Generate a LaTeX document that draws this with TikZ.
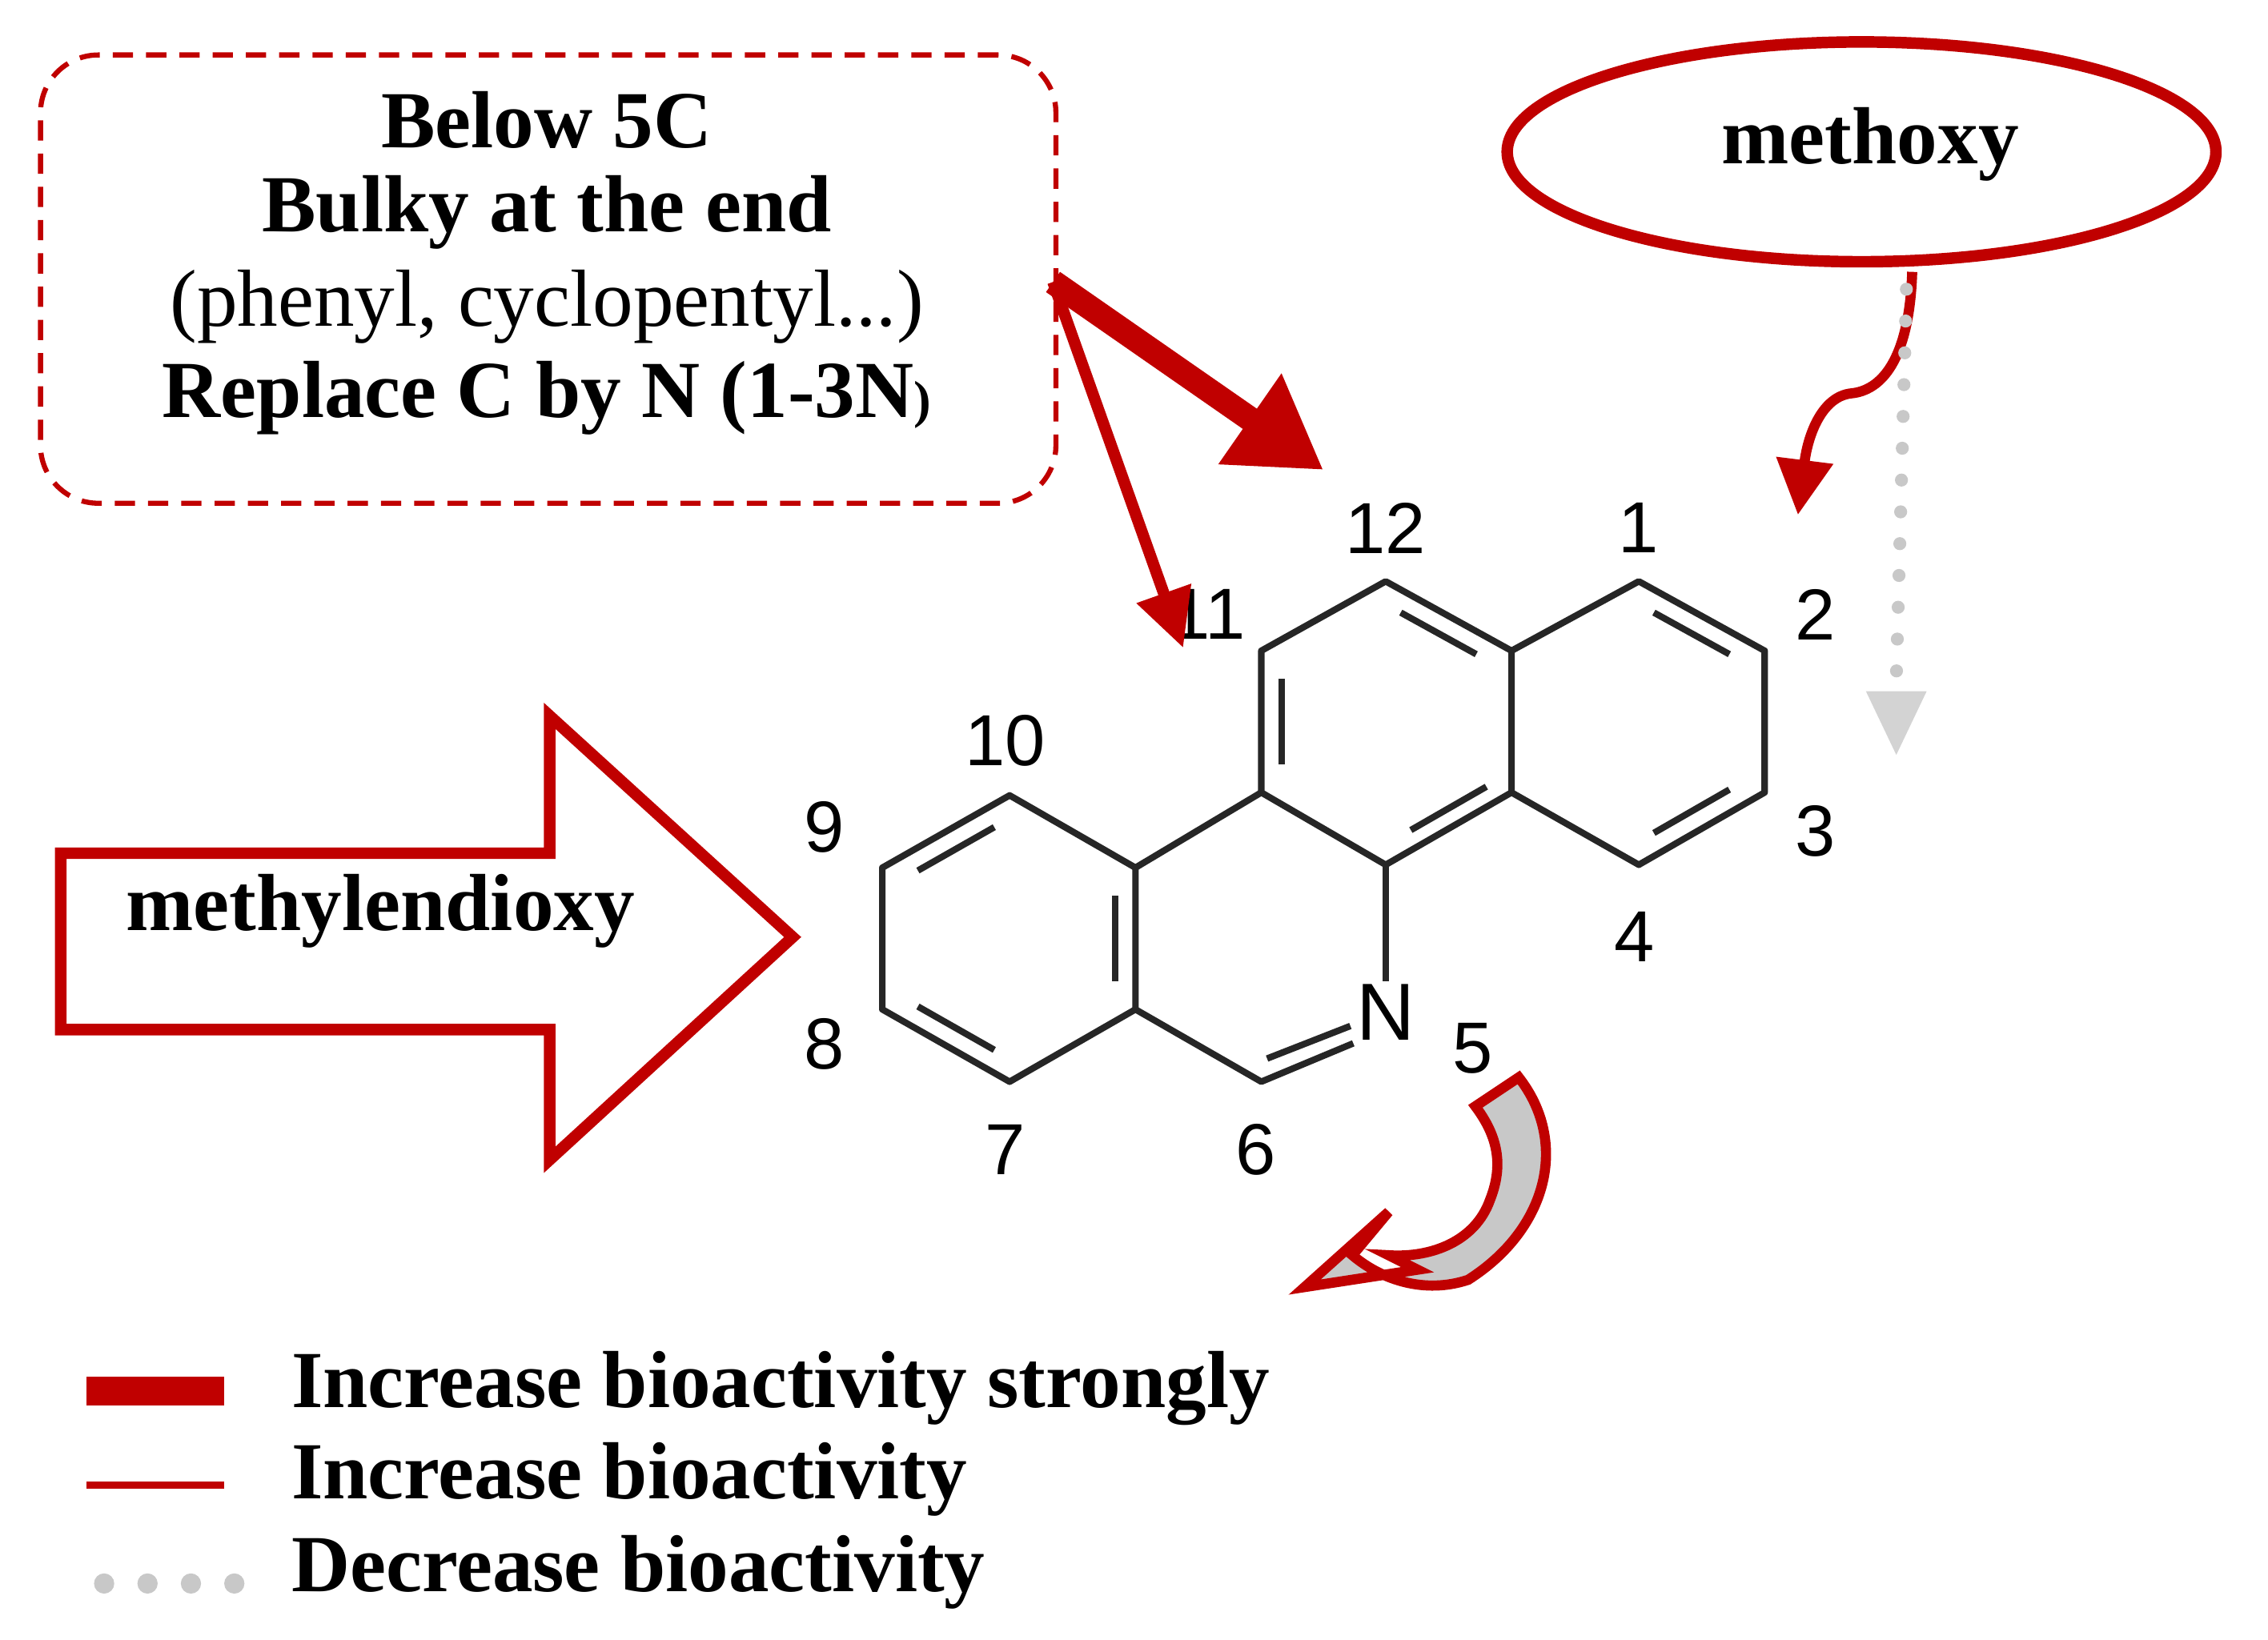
\documentclass[tikz,border=0pt]{standalone}
\usepackage{fontspec}
\setmainfont{Liberation Serif}
\newfontfamily\numfont{Liberation Sans}
\usetikzlibrary{arrows.meta,shapes.geometric,calc}
\definecolor{dred}{RGB}{192,0,0}
\definecolor{lgray}{RGB}{200,200,200}
\begin{document}
\begin{tikzpicture}[x=1pt,y=-1pt,
  bond/.style={line width=4.5pt,black!85},
  lbl/.style={font=\numfont\fontsize{50}{54}\selectfont},
  txt/.style={font=\fontsize{56}{60}\selectfont\bfseries},
  ltxt/.style={font=\fontsize{56}{60}\selectfont\bfseries,anchor=west}]
\useasboundingbox (0,0) rectangle (1568,1134);
% dashed box
\node[draw=dred,dash pattern=on 14pt off 9pt,line width=3.5pt,rounded corners=40pt,minimum width=702pt,minimum height=310pt] (box) at (379,193) {};
\node[txt] (t1) at (378,83) {Below 5C};
\node[txt] (t2) at (378,147) {Bulky at the end};
\node[font=\fontsize{56}{60}\selectfont] (t3) at (378,212) {(phenyl, cyclopentyl...)};
\node[txt] (t4) at (378,275) {Replace C by N (1-3N{\fontsize{36}{40}\selectfont)}};
% ellipse
\node[draw=dred,line width=8pt,ellipse,minimum width=490pt,minimum height=152pt] (ell) at (1287,105) {};
\node[txt] (meth) at (1293,100) {methoxy};
% atoms
\foreach \n/\x/\y in {c1/1133/402,c2/1220/450,c3/1220/548,c4/1133/598,c4a/1045/548,c12a/1045/450,
  c12/958/402,c11/872/450,c10b/872/548,c4b/958/598,c6/872/748,c6a/785/698,c10a/785/600,
  c10/698/550,c9/610/600,c8/610/698,c7/698/748}
  \coordinate (\n) at (\x,\y);
\node[font=\numfont\fontsize{56}{60}\selectfont,inner sep=2pt] (N) at (958,700) {N};
\draw[bond,line join=round] (c12a)--(c1)--(c2)--(c3)--(c4)--(c4a)--(c12a)--(c12)--(c11)--(c10b)--(c4b)--(c4a);
\draw[bond] (c4b)--(N.north);
\draw[bond,line join=round] (N.south west)--(c6)--(c6a)--(c10a)--(c10b);
\draw[bond,line join=round] (c10a)--(c10)--(c9)--(c8)--(c7)--(c6a);
% inner double bonds
\draw[bond] ($(c1)!0.2!(c2)+(-7,12)$) -- ($(c1)!0.8!(c2)+(-7,12)$);
\draw[bond] ($(c3)!0.2!(c4)+(-7,-12)$) -- ($(c3)!0.8!(c4)+(-7,-12)$);
\draw[bond] ($(c12)!0.2!(c12a)+(-7,12)$) -- ($(c12)!0.8!(c12a)+(-7,12)$);
\draw[bond] ($(c11)!0.2!(c10b)+(14,0)$) -- ($(c11)!0.8!(c10b)+(14,0)$);
\draw[bond] ($(c4b)!0.2!(c4a)+(0,-14)$) -- ($(c4b)!0.8!(c4a)+(0,-14)$);
\draw[bond] ($(c6a)!0.2!(c10a)+(-14,0)$) -- ($(c6a)!0.8!(c10a)+(-14,0)$);
\draw[bond] ($(c10)!0.2!(c9)+(7,12)$) -- ($(c10)!0.8!(c9)+(7,12)$);
\draw[bond] ($(c8)!0.2!(c7)+(7,-12)$) -- ($(c8)!0.8!(c7)+(7,-12)$);
\draw[bond] ($(N.south west)+(-2,-12)$) -- ($(c6)+(4,-16)$);
% labels
\foreach \n/\t/\x/\y in {l12/12/958/365,l1/1/1133/365,l2/2/1255/425,l3/3/1255/575,l4/4/1130/648,
  l5/5/1018/725,l6/6/868/795,l7/7/695/795,l8/8/570/722,l9/9/570/572,l10/10/695/512,l11/11/835/425}
  \node[lbl] (\n) at (\x,\y) {\t};
% arrows
\coordinate (a0) at (728,195);
\coordinate (a1) at (915,325);
\coordinate (b1) at (818,448);
\draw[dred,line width=17pt,-{Triangle[length=62pt,width=72pt]}] (a0) -- (a1);
\draw[dred,line width=8pt,-{Triangle[length=40pt,width=38pt]}] (a0) -- (b1);
\coordinate (m0) at (1322,188);
\coordinate (m1) at (1243,356);
\draw[dred,line width=7pt,-{Triangle[length=38pt,width=38pt]}] (m0) .. controls (1320,250) and (1300,270) .. (1280,272) .. controls (1260,274) and (1250,300) .. (m1);
\coordinate (d0) at (1318,200);
\coordinate (d1) at (1310,520);
\draw[lgray,line width=9pt,dash pattern=on 0pt off 22pt,line cap=round] (d0) -- (1311,470);
\fill[lgray!80] (1290,478) -- (1332,478) -- (1311,522) -- cycle;
% block arrow
\draw[dred,line width=8pt,line join=miter,fill=white] (42,590) -- (380,590) -- (380,495) -- (548,648) -- (380,802) -- (380,712) -- (42,712) -- cycle;
\node[txt] (md) at (263,630) {methylendioxy};
% curved arrow near 5
\draw[dred,line width=7pt,fill=lgray] (1050,745) .. controls (1085,790) and (1070,850) .. (1015,885)
  .. controls (985,895) and (955,885) .. (935,868) -- (960,838) -- (902,890) -- (980,878) -- (960,868)
  .. controls (990,870) and (1020,858) .. (1030,830) .. controls (1040,805) and (1035,785) .. (1020,765) -- cycle;
% legend
\draw[dred,line width=20pt] (60,962) -- (155,962);
\draw[dred,line width=5pt] (60,1027) -- (155,1027);
\draw[lgray,line width=14pt,dash pattern=on 0pt off 30pt,line cap=round] (72,1095) -- (165,1095);
\node[ltxt] (g1) at (198,960) {Increase bioactivity strongly};
\node[ltxt] (g2) at (198,1023) {Increase bioactivity};
\node[ltxt] (g3) at (198,1087) {Decrease bioactivity};
\end{tikzpicture}
\end{document}
